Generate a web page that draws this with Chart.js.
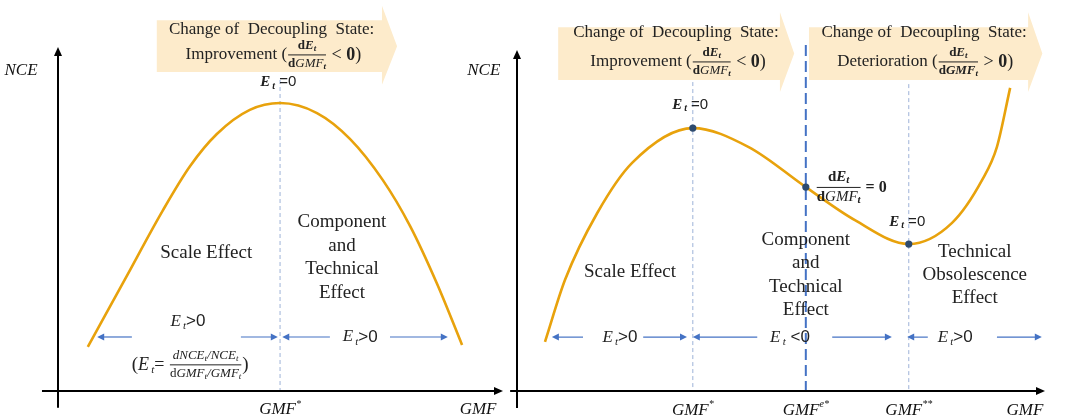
<!DOCTYPE html>
<html>
<head>
<meta charset="utf-8">
<script src="https://cdn.jsdelivr.net/npm/chart.js@4.4.1/dist/chart.umd.min.js"></script>
<style>
  html, body { margin: 0; padding: 0; background: #fff; }
  #wrap { position: relative; width: 1065px; height: 416px; overflow: hidden; }
  canvas { position: absolute; top: 0; }
  #leftChart { left: 0; }
  #rightChart { left: 455px; }
</style>
</head>
<body>
<div id="wrap">
  <canvas id="leftChart" width="530" height="416"></canvas>
  <canvas id="rightChart" width="610" height="416"></canvas>
</div>
<script>
// left panel: inverted U curve
const leftGMF = [0.67, 1.51, 2.36, 2.97, 3.57, 4.31, 4.99, 5.82, 6.56, 7.30, 7.91, 8.52, 9.08];
const leftNCE = [1.28, 3.26, 5.26, 6.54, 7.47, 8.17, 8.37, 8.08, 7.33, 6.13, 4.80, 3.11, 1.34];
const leftTickGMF = [4.99];
const leftTickSup = ["*"];

// right panel: N shaped curve
const rightGMF = [0.53, 0.91, 1.52, 2.18, 3.33, 4.38, 5.47, 6.40, 7.42, 8.24, 8.81, 9.09, 9.34];
const rightNCE = [1.44, 3.26, 5.22, 6.69, 7.71, 7.16, 5.98, 5.01, 4.31, 4.93, 6.19, 7.16, 8.89];
const rightDotGMF = [3.33, 5.47, 7.42];
const rightDotNCE = [7.71, 5.98, 4.31];
const rightTickGMF = [3.33, 5.47, 7.42];
const rightTickSup = ["*", "e*", "**"];

const SERIF = '"Liberation Serif", "Times New Roman", serif';
const SANS = '"Liberation Sans", Arial, sans-serif';
const TEXT = "#222";
const BLUE = "#4472C4";
const CURVE = "#E8A20C";
const BANNER = "#FDEBCB";

// ---------- little text layout helpers ----------
function runWidth(ctx, runs) {
  let w = 0;
  runs.forEach((r) => {
    ctx.font = r.f;
    w += ctx.measureText(r.t).width;
  });
  return w;
}

function itemWidth(ctx, it) {
  if (it.frac) {
    return Math.max(runWidth(ctx, it.frac[0]), runWidth(ctx, it.frac[1])) + 2;
  }
  return runWidth(ctx, [it]);
}

function drawRuns(ctx, runs, x, y) {
  runs.forEach((r) => {
    ctx.font = r.f;
    ctx.fillText(r.t, x, y + (r.dy || 0));
    x += ctx.measureText(r.t).width;
  });
}

function drawMath(ctx, items, cx, cy, color) {
  ctx.save();
  ctx.fillStyle = color || TEXT;
  ctx.textBaseline = "middle";
  ctx.textAlign = "left";
  const ws = items.map((it) => itemWidth(ctx, it));
  let x = cx - ws.reduce((a, b) => a + b, 0) / 2;
  items.forEach((it, i) => {
    if (it.frac) {
      const w = ws[i];
      const off = it.off || 8;
      const nw = runWidth(ctx, it.frac[0]);
      const dw = runWidth(ctx, it.frac[1]);
      drawRuns(ctx, it.frac[0], x + (w - nw) / 2, cy - off);
      drawRuns(ctx, it.frac[1], x + (w - dw) / 2, cy + off);
      ctx.strokeStyle = color || TEXT;
      ctx.lineWidth = 1;
      ctx.beginPath();
      ctx.moveTo(x + 1, cy);
      ctx.lineTo(x + w - 1, cy);
      ctx.stroke();
    } else {
      drawRuns(ctx, [it], x, cy);
    }
    x += ws[i];
  });
  ctx.restore();
}

function drawLines(ctx, lines, cx, cy0, step, font) {
  ctx.save();
  ctx.fillStyle = TEXT;
  ctx.font = font;
  ctx.textAlign = "center";
  ctx.textBaseline = "middle";
  lines.forEach((s, i) => ctx.fillText(s, cx, cy0 + i * step));
  ctx.restore();
}

// ---------- shapes ----------
function head(ctx, x, y, dx, dy, len, half) {
  ctx.beginPath();
  ctx.moveTo(x, y);
  ctx.lineTo(x - dx * len - dy * half, y - dy * len + dx * half);
  ctx.lineTo(x - dx * len + dy * half, y - dy * len - dx * half);
  ctx.closePath();
  ctx.fill();
}

function drawAxes(ctx, X, Y, xStart, yStart) {
  ctx.save();
  ctx.strokeStyle = "#000";
  ctx.fillStyle = "#000";
  ctx.lineWidth = 2;
  ctx.beginPath();
  ctx.moveTo(X(xStart), Y(0));
  ctx.lineTo(X(10) - 6, Y(0));
  ctx.moveTo(X(0), Y(yStart));
  ctx.lineTo(X(0), Y(10) + 6);
  ctx.stroke();
  head(ctx, X(10), Y(0), 1, 0, 9, 4);
  head(ctx, X(0), Y(10), 0, -1, 9, 4);
  ctx.restore();
}

function hArrow(ctx, x1, x2, y) {
  ctx.save();
  ctx.strokeStyle = BLUE;
  ctx.fillStyle = BLUE;
  ctx.lineWidth = 1.2;
  const d = x2 > x1 ? 1 : -1;
  ctx.beginPath();
  ctx.moveTo(x1, y);
  ctx.lineTo(x2 - d * 5, y);
  ctx.stroke();
  head(ctx, x2, y, d, 0, 7, 3.5);
  ctx.restore();
}

function vDash(ctx, x, y1, y2, strong) {
  ctx.save();
  ctx.strokeStyle = strong ? BLUE : "#9DB2D8";
  ctx.lineWidth = strong ? 2 : 1;
  ctx.setLineDash(strong ? [11, 5] : [4, 3]);
  ctx.beginPath();
  ctx.moveTo(x, y1);
  ctx.lineTo(x, y2);
  ctx.stroke();
  ctx.restore();
}

function banner(ctx, x1, x2, tip, top, bottom, hTop, hBottom) {
  ctx.save();
  ctx.fillStyle = BANNER;
  ctx.beginPath();
  ctx.moveTo(x1, top);
  ctx.lineTo(x2, top);
  ctx.lineTo(x2, hTop);
  ctx.lineTo(tip, (top + bottom) / 2);
  ctx.lineTo(x2, hBottom);
  ctx.lineTo(x2, bottom);
  ctx.lineTo(x1, bottom);
  ctx.closePath();
  ctx.fill();
  ctx.restore();
}

// ---------- reusable math labels ----------
const fracSmall = (bold, size) => {
  const b = bold ? "bold " : "";
  const s = size || 13;
  const sub = Math.round(s * 0.7);
  return {
    frac: [
      [
        { t: "d", f: "bold " + s + "px " + SERIF },
        { t: "E", f: "bold italic " + s + "px " + SERIF },
        { t: "t", f: "bold italic " + sub + "px " + SERIF, dy: 3 },
      ],
      [
        { t: "d", f: "bold " + s + "px " + SERIF },
        { t: "GMF", f: b + "italic " + s + "px " + SERIF },
        { t: "t", f: "bold italic " + sub + "px " + SERIF, dy: 3 },
      ],
    ],
    off: s > 13 ? 10 : 9,
  };
};

function stateLine(word, sign) {
  return [
    { t: word + " (", f: "17px " + SERIF },
    fracSmall(sign === ">"),
    { t: " " + sign + " ", f: "18px " + SERIF },
    { t: "0", f: "bold 18px " + SERIF },
    { t: ")", f: "18px " + SERIF },
  ];
}

const etZero = [
  { t: "E", f: "bold italic 15px " + SERIF },
  { t: "\u2009t", f: "bold italic 10px " + SERIF, dy: 4 },
  { t: " =0", f: "15px " + SANS },
];

function etSign(sign) {
  return [
    { t: "E", f: "italic 17px " + SERIF },
    { t: "\u2009t", f: "italic 11px " + SERIF, dy: 5 },
    { t: sign + "0", f: "17px " + SANS },
  ];
}

function axisLabel(ctx, x, y, text, sup) {
  const items = [{ t: text, f: "italic 17px " + SERIF }];
  if (sup) items.push({ t: sup, f: "italic 10px " + SERIF, dy: -6 });
  drawMath(ctx, items, x, y, "#111");
}

// ---------- panel decorations ----------
function leftBack(chart) {
  const ctx = chart.ctx;
  const X = (v) => chart.scales.x.getPixelForValue(v);
  const Y = (v) => chart.scales.y.getPixelForValue(v);
  banner(ctx, X(2.22), X(7.28), X(7.62), Y(10.78), Y(9.27), Y(11.2), Y(8.9));
  leftTickGMF.forEach((v) => vDash(ctx, X(v), Y(9.04), Y(0), false));
}

function leftFront(chart) {
  const ctx = chart.ctx;
  const X = (v) => chart.scales.x.getPixelForValue(v);
  const Y = (v) => chart.scales.y.getPixelForValue(v);
  drawAxes(ctx, X, Y, -0.36, -0.49);

  drawLines(ctx, ["Change of  Decoupling  State:"], X(4.8), Y(10.52), 0, "17px " + SERIF);
  drawMath(ctx, stateLine("Improvement", "<"), X(4.84), Y(9.77));

  drawMath(ctx, etZero, X(4.95), Y(8.98));
  drawLines(ctx, ["Scale Effect"], X(3.33), Y(4.01), 0, "19px " + SERIF);
  drawLines(ctx, ["Component", "and", "Technical", "Effect"], X(6.38), Y(4.91), 23.7, "19px " + SERIF);

  drawMath(ctx, etSign(">"), X(2.92), Y(2.03));
  drawMath(ctx, etSign(">"), X(6.79), Y(1.57));
  const ay = Y(1.57);
  hArrow(ctx, X(1.66), X(0.88), ay);
  hArrow(ctx, X(4.11), X(4.94), ay);
  hArrow(ctx, X(6.11), X(5.04), ay);
  hArrow(ctx, X(7.46), X(8.76), ay);

  drawMath(ctx, [
    { t: "(", f: "19px " + SERIF },
    { t: "E", f: "italic 18px " + SERIF },
    { t: "\u2009t", f: "italic 11px " + SERIF, dy: 5 },
    { t: "= ", f: "18px " + SERIF },
    {
      frac: [
        [
          { t: "dNCE", f: "italic 13px " + SERIF },
          { t: "t", f: "italic 9px " + SERIF, dy: 3 },
          { t: "/NCE", f: "italic 13px " + SERIF },
          { t: "t", f: "italic 9px " + SERIF, dy: 3 },
        ],
        [
          { t: "d", f: "13px " + SERIF },
          { t: "GMF", f: "italic 13px " + SERIF },
          { t: "t", f: "italic 9px " + SERIF, dy: 3 },
          { t: "/GMF", f: "italic 13px " + SERIF },
          { t: "t", f: "italic 9px " + SERIF, dy: 3 },
        ],
      ],
      off: 9,
    },
    { t: ")", f: "19px " + SERIF },
  ], X(2.97), Y(0.76));

  axisLabel(ctx, X(-0.83), Y(9.33), "NCE");
  leftTickGMF.forEach((v, i) => axisLabel(ctx, X(v), Y(-0.55), "GMF", leftTickSup[i]));
  axisLabel(ctx, X(9.44), Y(-0.55), "GMF");
}

function rightBack(chart) {
  const ctx = chart.ctx;
  const X = (v) => chart.scales.x.getPixelForValue(v);
  const Y = (v) => chart.scales.y.getPixelForValue(v);
  banner(ctx, X(0.78), X(4.98), X(5.25), Y(10.67), Y(9.12), Y(11.11), Y(8.77));
  banner(ctx, X(5.53), X(9.68), X(9.95), Y(10.67), Y(9.12), Y(11.11), Y(8.77));
  vDash(ctx, X(rightTickGMF[0]), Y(9.06), Y(0), false);
  vDash(ctx, X(rightTickGMF[2]), Y(9.0), Y(0), false);
  vDash(ctx, X(rightTickGMF[1]), Y(10.15), Y(0), true);
}

function rightFront(chart) {
  const ctx = chart.ctx;
  const X = (v) => chart.scales.x.getPixelForValue(v);
  const Y = (v) => chart.scales.y.getPixelForValue(v);
  drawAxes(ctx, X, Y, -0.13, -0.5);

  drawLines(ctx, ["Change of  Decoupling  State:"], X(3.01), Y(10.5), 0, "17px " + SERIF);
  drawMath(ctx, stateLine("Improvement", "<"), X(3.05), Y(9.65));
  drawLines(ctx, ["Change of  Decoupling  State:"], X(7.71), Y(10.5), 0, "17px " + SERIF);
  drawMath(ctx, stateLine("Deterioration", ">"), X(7.73), Y(9.65));

  drawMath(ctx, etZero, X(3.28), Y(8.39));
  drawMath(ctx, [
    fracSmall(false, 15),
    { t: " = ", f: "bold 16px " + SERIF },
    { t: "0", f: "bold 16px " + SERIF },
  ], X(6.33), Y(5.97));
  drawMath(ctx, etZero, X(7.39), Y(4.96));

  drawLines(ctx, ["Scale Effect"], X(2.14), Y(3.49), 0, "19px " + SERIF);
  drawLines(ctx, ["Component", "and", "Technical", "Effect"], X(5.47), Y(4.43), 23.3, "19px " + SERIF);
  drawLines(ctx, ["Technical", "Obsolescence", "Effect"], X(8.67), Y(4.08), 23.3, "19px " + SERIF);

  const ay = Y(1.58);
  drawMath(ctx, etSign(">"), X(1.95), ay);
  drawMath(ctx, [
    { t: "E", f: "italic 17px " + SERIF },
    { t: "\u2009t", f: "italic 11px " + SERIF, dy: 5 },
    { t: " <0", f: "17px " + SANS },
  ], X(5.17), ay);
  drawMath(ctx, etSign(">"), X(8.3), ay);
  hArrow(ctx, X(1.25), X(0.66), ay);
  hArrow(ctx, X(2.39), X(3.22), ay);
  hArrow(ctx, X(4.55), X(3.33), ay);
  hArrow(ctx, X(5.97), X(7.10), ay);
  hArrow(ctx, X(7.78), X(7.39), ay);
  hArrow(ctx, X(9.09), X(9.94), ay);

  axisLabel(ctx, X(-0.63), Y(9.41), "NCE");
  rightTickGMF.forEach((v, i) => axisLabel(ctx, X(v), Y(-0.56), "GMF", rightTickSup[i]));
  axisLabel(ctx, X(9.62), Y(-0.56), "GMF");
}

function makeChart(id, xs, ys, dots, padding, back, front) {
  const datasets = [];
  if (dots) {
    datasets.push({
      data: dots[0].map((x, i) => ({ x: x, y: dots[1][i] })),
      showLine: false,
      pointRadius: 3.6,
      pointBackgroundColor: "#2E4B6E",
      pointBorderWidth: 0,
    });
  }
  datasets.push({
    data: xs.map((x, i) => ({ x: x, y: ys[i] })),
    borderColor: CURVE,
    borderWidth: 2.6,
    pointRadius: 0,
    cubicInterpolationMode: "monotone",
    fill: false,
  });

  return new Chart(document.getElementById(id), {
    type: "line",
    data: { datasets: datasets },
    options: {
      responsive: false,
      animation: false,
      devicePixelRatio: 1,
      layout: { padding: padding },
      clip: false,
      scales: {
        x: { type: "linear", min: 0, max: 10, display: false },
        y: { type: "linear", min: 0, max: 10, display: false },
      },
      plugins: { legend: { display: false }, tooltip: { enabled: false } },
    },
    plugins: [
      {
        id: "decor",
        beforeDatasetsDraw: back,
        afterDatasetsDraw: front,
      },
    ],
  });
}

makeChart("leftChart", leftGMF, leftNCE, null,
  { left: 58, right: 27, top: 47, bottom: 25 }, leftBack, leftFront);
makeChart("rightChart", rightGMF, rightNCE, [rightDotGMF, rightDotNCE],
  { left: 62, right: 20, top: 50, bottom: 25 }, rightBack, rightFront);
</script>
</body>
</html>
